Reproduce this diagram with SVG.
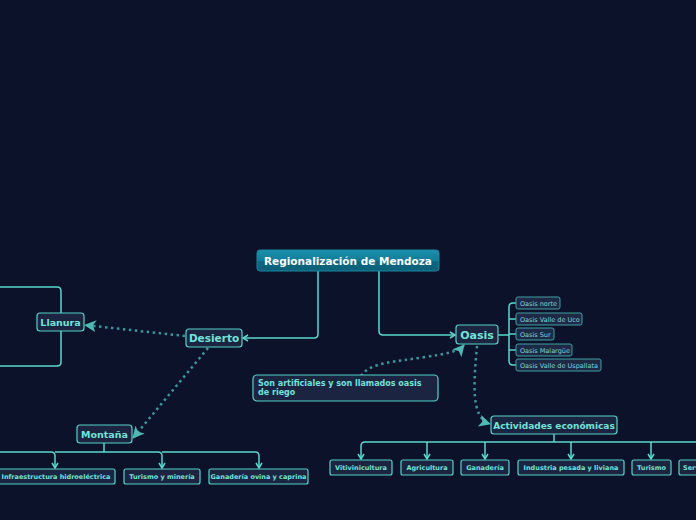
<svg xmlns="http://www.w3.org/2000/svg" width="696" height="520" viewBox="0 0 696 520">
<defs>
<linearGradient id="rootg" x1="0" y1="0" x2="0" y2="1">
<stop offset="0" stop-color="#1b90ad"/>
<stop offset="0.5" stop-color="#137c98"/>
<stop offset="0.55" stop-color="#0c6780"/>
<stop offset="1" stop-color="#0c6178"/>
</linearGradient>
<marker id="arr" viewBox="0 0 8 8" refX="7" refY="4" markerWidth="8" markerHeight="8" markerUnits="userSpaceOnUse" orient="auto">
<polyline points="2,1 7,4 2,7" fill="none" stroke="#5ad8cc" stroke-width="1.5"/>
</marker>
<marker id="big" viewBox="0 0 12 12" refX="11" refY="6" markerWidth="12" markerHeight="12" markerUnits="userSpaceOnUse" orient="auto">
<path d="M0,0 L12,6 L0,12 L3,6 Z" fill="#4fb8b5"/>
</marker>
</defs>
<style>
.bg{fill:#0b1229}
.n rect{fill:#1b2440;stroke:#55d3c8;stroke-width:1.2}
.n text{font-family:"DejaVu Sans",Verdana,sans-serif;font-weight:bold;fill:#72e3d8;text-anchor:middle}
.s rect{fill:#1e2a45;stroke:#3f9ea3;stroke-width:1}
.s text{font-family:"DejaVu Sans",Verdana,sans-serif;fill:#7fd3dc;font-size:6.5px}
.c{fill:none;stroke:#5ad8cc;stroke-width:1.5}
.d{fill:none;stroke:#3e9499;stroke-width:2.5;stroke-dasharray:2.5 3.5}
</style>
<rect class="bg" x="0" y="0" width="696" height="520"/>
<g id="connectors">
<path class="c" d="M318,271 V334 Q318,338 314,338 H243" marker-end="url(#arr)"/>
<path class="c" d="M379,271 V331 Q379,335 383,335 H455" marker-end="url(#arr)"/>
<path class="c" d="M0,287 H57 Q61,287 61,291 V313"/>
<path class="c" d="M61,331 V362 Q61,366 57,366 H0"/>
<path class="c" d="M498,335 H509"/>
<path class="c" d="M516,303 H513 Q509,303 509,307 V361 Q509,365 513,365 H516"/>
<path class="c" d="M509,319 Q509,319 513,319 H516"/>
<path class="c" d="M509,334 H516"/>
<path class="c" d="M509,350 H516"/>
<path class="c" d="M104,443 V452"/>
<path class="c" d="M0,452 H51 Q55,452 55,456 V468" marker-end="url(#arr)"/>
<path class="c" d="M55,452 H158 Q162,452 162,456 V468" marker-end="url(#arr)"/>
<path class="c" d="M162,452 H255 Q259,452 259,456 V468" marker-end="url(#arr)"/>
<path class="c" d="M554,434 V442"/>
<path class="c" d="M696,442 H365 Q361,442 361,446 V459" marker-end="url(#arr)"/>
<path class="c" d="M427,442 V459" marker-end="url(#arr)"/>
<path class="c" d="M485,442 V459" marker-end="url(#arr)"/>
<path class="c" d="M571,442 V459" marker-end="url(#arr)"/>
<path class="c" d="M651,442 V459" marker-end="url(#arr)"/>
<path class="d" d="M185,336 L85,325" marker-end="url(#big)"/>
<path class="d" d="M208,348 L133,438" marker-end="url(#big)"/>
<path class="d" d="M361,376 C370,362 395,362 425,357 C445,354 458,352 464,345" marker-end="url(#big)"/>
<path class="d" d="M477,346 C474,380 470,418 490,424" marker-end="url(#big)"/>
</g>
<g id="root">
<rect x="257" y="250" width="182" height="21" rx="3" fill="url(#rootg)" stroke="#1a87a2" stroke-width="1"/>
<text x="348" y="265" font-family="DejaVu Sans,Verdana,sans-serif" font-weight="bold" font-size="10.5" fill="#ffffff" text-anchor="middle">Regionalización de Mendoza</text>
</g>
<g id="desierto" class="n">
<rect x="186" y="329" width="56" height="18" rx="3"/>
<text x="214" y="342" font-size="10.5">Desierto</text>
</g>
<g id="oasis" class="n">
<rect x="456" y="325" width="42" height="19" rx="3"/>
<text x="477" y="339" font-size="11">Oasis</text>
</g>
<g id="llanura" class="n">
<rect x="37" y="313" width="47" height="18" rx="3"/>
<text x="60.5" y="326" font-size="9.5">Llanura</text>
</g>
<g id="montana" class="n">
<rect x="77" y="425" width="55" height="18" rx="3"/>
<text x="104.5" y="438" font-size="9.5">Montaña</text>
</g>
<g id="actividades" class="n">
<rect x="491" y="416" width="126" height="18" rx="3"/>
<text x="554" y="429" font-size="9">Actividades económicas</text>
</g>
<g id="nota" class="n">
<rect x="253" y="375" width="185" height="26" rx="4"/>
<text x="258" y="386" font-size="8" style="text-anchor:start">Son artificiales y son llamados oasis</text>
<text x="258" y="395" font-size="8" style="text-anchor:start">de riego</text>
</g>
<g id="oasis-norte" class="s">
<rect x="516" y="297" width="44" height="12" rx="2"/>
<text x="520" y="305.5">Oasis norte</text>
</g>
<g id="oasis-uco" class="s">
<rect x="516" y="313" width="66" height="12" rx="2"/>
<text x="520" y="321.5">Oasis Valle de Uco</text>
</g>
<g id="oasis-sur" class="s">
<rect x="516" y="328" width="38" height="12" rx="2"/>
<text x="520" y="336.5">Oasis Sur</text>
</g>
<g id="oasis-malargue" class="s">
<rect x="516" y="344" width="56" height="12" rx="2"/>
<text x="520" y="352.5">Oasis Malargüe</text>
</g>
<g id="oasis-uspallata" class="s">
<rect x="516" y="359" width="85" height="12" rx="2"/>
<text x="520" y="367.5">Oasis Valle de Uspallata</text>
</g>
<g id="infraestructura" class="n">
<rect x="-3" y="469" width="118" height="15" rx="2"/>
<text x="56" y="479" font-size="6.5">Infraestructura hidroeléctrica</text>
</g>
<g id="turismo-mineria" class="n">
<rect x="124" y="469" width="76" height="15" rx="2"/>
<text x="162" y="479" font-size="6.5">Turismo y minería</text>
</g>
<g id="ganaderia-ovina" class="n">
<rect x="209" y="469" width="99" height="15" rx="2"/>
<text x="258.5" y="479" font-size="6.5">Ganadería ovina y caprina</text>
</g>
<g id="vitivinicultura" class="n">
<rect x="330" y="460" width="62" height="15" rx="2"/>
<text x="361" y="470" font-size="6.5">Vitivinicultura</text>
</g>
<g id="agricultura" class="n">
<rect x="401" y="460" width="52" height="15" rx="2"/>
<text x="427" y="470" font-size="6.5">Agricultura</text>
</g>
<g id="ganaderia" class="n">
<rect x="461" y="460" width="48" height="15" rx="2"/>
<text x="485" y="470" font-size="6.5">Ganadería</text>
</g>
<g id="industria" class="n">
<rect x="518" y="460" width="106" height="15" rx="2"/>
<text x="571" y="470" font-size="6.5">Industria pesada y liviana</text>
</g>
<g id="turismo" class="n">
<rect x="632" y="460" width="39" height="15" rx="2"/>
<text x="651.5" y="470" font-size="6.5">Turismo</text>
</g>
<g id="servicios" class="n">
<rect x="679" y="460" width="46" height="15" rx="2"/>
<text x="683" y="470" font-size="6.5" style="text-anchor:start">Servicios</text>
</g>
</svg>
